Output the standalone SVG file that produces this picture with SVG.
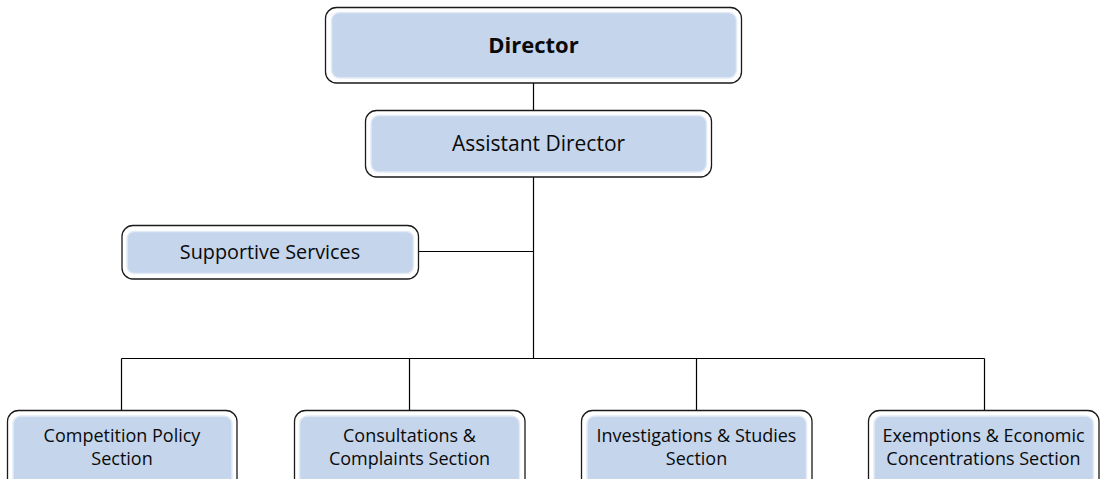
<svg xmlns="http://www.w3.org/2000/svg" width="1102" height="479" viewBox="0 0 1102 479">
  <style>
    .frame { fill: #ffffff; stroke: #1a1a1a; stroke-width: 1.3; }
    .panel { fill: #c5d5ec; stroke: #e3ebf6; stroke-width: 1.5; }
    .label { font-family: "Open Sans", "Liberation Sans", sans-serif; fill: #0a0a0a; text-anchor: middle; }
    .small { font-size: 18px; }
    .link { stroke: #000000; stroke-width: 1.2; fill: none; }
  </style>
  <rect width="1102" height="479" fill="#ffffff"/>

  <!-- connectors -->
  <g id="connectors">
    <line class="link" x1="533.5" y1="83" x2="533.5" y2="110"/>
    <line class="link" x1="533.5" y1="177" x2="533.5" y2="358.5"/>
    <line class="link" x1="418" y1="251.5" x2="533.5" y2="251.5"/>
    <line class="link" x1="121.5" y1="358.5" x2="984.5" y2="358.5"/>
    <line class="link" x1="121.5" y1="358.5" x2="121.5" y2="410"/>
    <line class="link" x1="409.5" y1="358.5" x2="409.5" y2="410"/>
    <line class="link" x1="696.5" y1="358.5" x2="696.5" y2="410"/>
    <line class="link" x1="984.5" y1="358.5" x2="984.5" y2="410"/>
  </g>

  <g id="director">
    <rect class="frame" x="325.5" y="7.5" width="416" height="75.5" rx="11"/>
    <rect class="panel" x="331.5" y="12.5" width="405" height="65.5" rx="8"/>
    <text class="label" x="533.5" y="53" font-size="22" font-weight="bold">Director</text>
  </g>

  <g id="assistant-director">
    <rect class="frame" x="365.5" y="110.5" width="346" height="66.5" rx="11"/>
    <rect class="panel" x="371" y="115.5" width="335.5" height="56.5" rx="8"/>
    <text class="label" x="538.5" y="150.5" font-size="21">Assistant Director</text>
  </g>

  <g id="supportive-services">
    <rect class="frame" x="122" y="225.5" width="296.5" height="53.5" rx="11"/>
    <rect class="panel" x="127" y="231.5" width="286.5" height="42" rx="7"/>
    <text class="label" x="270" y="259" font-size="19.8">Supportive Services</text>
  </g>

  <g id="competition-policy">
    <rect class="frame" x="7.5" y="410.5" width="229.5" height="80" rx="11"/>
    <rect class="panel" x="13" y="416" width="219" height="70" rx="8"/>
    <text class="label small" x="122" y="441.5">Competition Policy</text>
    <text class="label small" x="122" y="465">Section</text>
  </g>

  <g id="consultations-complaints">
    <rect class="frame" x="294.5" y="410.5" width="230.5" height="80" rx="11"/>
    <rect class="panel" x="299.5" y="416" width="220" height="70" rx="8"/>
    <text class="label small" x="409.5" y="441.5">Consultations &amp;</text>
    <text class="label small" x="409.5" y="465">Complaints Section</text>
  </g>

  <g id="investigations-studies">
    <rect class="frame" x="581.5" y="410.5" width="230.5" height="80" rx="11"/>
    <rect class="panel" x="587" y="416" width="219.5" height="70" rx="8"/>
    <text class="label small" x="696.5" y="441.5">Investigations &amp; Studies</text>
    <text class="label small" x="696.5" y="465">Section</text>
  </g>

  <g id="exemptions-concentrations">
    <rect class="frame" x="868.5" y="410.5" width="230.5" height="80" rx="11"/>
    <rect class="panel" x="874" y="416" width="219.5" height="70" rx="8"/>
    <text class="label small" x="983.5" y="441.5">Exemptions &amp; Economic</text>
    <text class="label small" x="983.5" y="465">Concentrations Section</text>
  </g>
</svg>
